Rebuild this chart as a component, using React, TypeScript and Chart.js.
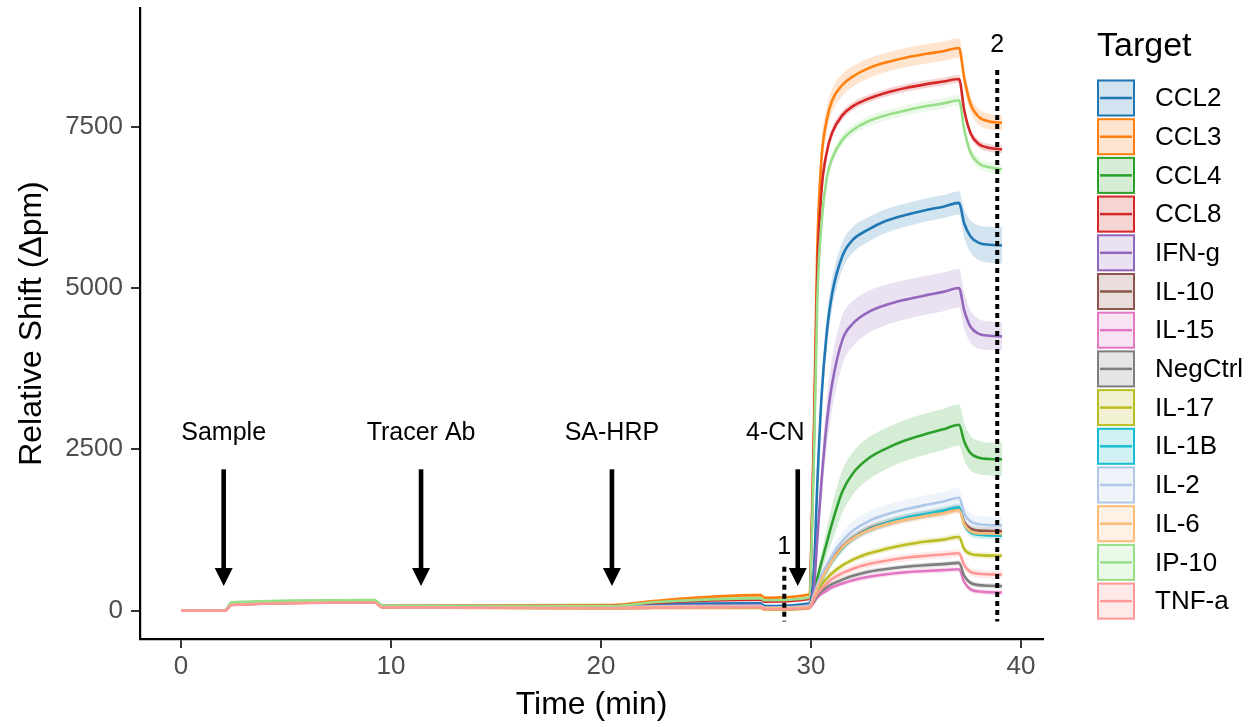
import React, { useEffect, useRef } from 'react';
import { Chart, registerables } from 'chart.js';

Chart.register(...registerables);

const FONT = '"Liberation Sans", Arial, sans-serif';

// Time points (min)
const TIME = [0, 2.1, 2.4, 9.2, 9.6, 20.5, 22.5, 27.6, 27.8, 29.9, 30.15, 30.3, 30.5, 30.75, 31, 31.5, 32, 32.7, 33.5, 34.5, 35.5, 36.3, 37.05, 37.3, 37.6, 38, 38.5, 39.1];

const TARGETS = ['CCL2', 'CCL3', 'CCL4', 'CCL8', 'IFN-g', 'IL-10', 'IL-15', 'NegCtrl', 'IL-17', 'IL-1B', 'IL-2', 'IL-6', 'IP-10', 'TNF-a'];
const COLORS = ['#1F77B4', '#FF7F0E', '#2CA02C', '#D62728', '#9467BD', '#8C564B', '#E377C2', '#7F7F7F', '#BCBD22', '#17BECF', '#AEC7E8', '#FFBB78', '#98DF8A', '#FF9896'];

// Mean relative shift (pm)
const CCL2 = [0, 0, 100, 140, 60, 55, 95, 115, 70, 110, 700, 1950, 3300, 4300, 4900, 5500, 5750, 5900, 6030, 6130, 6210, 6260, 6320, 6000, 5800, 5700, 5670, 5660];
const CCL3 = [0, 0, 110, 150, 80, 85, 150, 240, 200, 250, 3000, 5600, 7000, 7600, 7900, 8150, 8280, 8400, 8490, 8570, 8630, 8670, 8720, 8250, 7850, 7650, 7580, 7560];
const CCL4 = [0, 0, 95, 135, 55, 45, 60, 70, 40, 70, 300, 500, 750, 1050, 1350, 1850, 2130, 2350, 2500, 2640, 2740, 2810, 2880, 2620, 2440, 2370, 2350, 2345];
const CCL8 = [0, 0, 105, 145, 70, 70, 120, 170, 140, 180, 2800, 5200, 6500, 7100, 7400, 7680, 7820, 7930, 8020, 8100, 8160, 8200, 8240, 7750, 7400, 7230, 7170, 7150];
const IFNG = [0, 0, 100, 140, 60, 50, 70, 85, 50, 80, 400, 1100, 2000, 2900, 3500, 4200, 4450, 4620, 4730, 4820, 4890, 4940, 5000, 4650, 4400, 4290, 4260, 4250];
const IL10 = [0, 0, 95, 135, 55, 45, 55, 60, 30, 55, 220, 350, 490, 640, 780, 990, 1130, 1260, 1350, 1430, 1490, 1530, 1580, 1370, 1270, 1240, 1235, 1230];
const IL15 = [0, 0, 90, 130, 50, 40, 45, 50, 20, 40, 130, 200, 260, 310, 360, 420, 470, 520, 560, 595, 615, 628, 640, 440, 330, 295, 285, 280];
const NEGCTRL = [0, 0, 90, 130, 50, 40, 45, 50, 20, 45, 150, 230, 300, 360, 410, 480, 540, 600, 640, 680, 705, 720, 740, 540, 430, 395, 385, 380];
const IL17 = [0, 0, 90, 130, 50, 35, 40, 40, 15, 35, 200, 300, 400, 500, 580, 700, 790, 880, 950, 1020, 1070, 1100, 1140, 950, 880, 860, 852, 850];
const IL1B = [0, 0, 95, 135, 55, 45, 55, 60, 30, 55, 200, 330, 470, 620, 760, 970, 1120, 1250, 1350, 1440, 1500, 1550, 1600, 1330, 1210, 1175, 1165, 1160];
const IL2 = [0, 0, 100, 140, 60, 50, 65, 75, 45, 75, 250, 400, 550, 700, 850, 1080, 1240, 1380, 1480, 1570, 1640, 1690, 1750, 1500, 1380, 1340, 1325, 1320];
const IL6 = [0, 0, 95, 135, 55, 45, 55, 60, 35, 55, 210, 340, 480, 630, 770, 980, 1120, 1240, 1330, 1410, 1470, 1510, 1560, 1340, 1230, 1200, 1195, 1190];
const IP10 = [0, 0, 130, 165, 80, 70, 130, 190, 160, 200, 2500, 4800, 6000, 6700, 7000, 7300, 7450, 7580, 7670, 7750, 7820, 7860, 7910, 7450, 7100, 6930, 6870, 6840];
const TNFA = [0, 0, 85, 125, 50, 40, 45, 50, 20, 40, 180, 260, 340, 420, 490, 580, 650, 720, 770, 820, 850, 870, 890, 700, 600, 570, 562, 560];

// Ribbon half-widths (pm)
const CCL2_SD = [10, 10, 20, 20, 15, 15, 20, 25, 25, 25, 100, 200, 250, 260, 240, 210, 200, 190, 185, 180, 180, 180, 180, 220, 250, 270, 280, 280];
const CCL3_SD = [10, 10, 20, 20, 15, 15, 20, 25, 25, 25, 200, 300, 250, 200, 180, 170, 160, 155, 150, 150, 150, 150, 150, 140, 130, 125, 120, 120];
const CCL4_SD = [10, 10, 20, 20, 15, 15, 20, 25, 25, 25, 50, 100, 150, 220, 280, 330, 330, 325, 320, 320, 320, 320, 320, 290, 270, 260, 255, 255];
const CCL8_SD = [10, 10, 20, 20, 15, 15, 20, 25, 25, 25, 150, 200, 150, 100, 80, 70, 65, 60, 60, 60, 60, 60, 60, 60, 60, 60, 60, 60];
const IFNG_SD = [10, 10, 20, 20, 15, 15, 20, 25, 25, 25, 80, 200, 300, 380, 400, 380, 350, 330, 315, 305, 300, 300, 300, 280, 250, 230, 220, 220];
const IL10_SD = [10, 10, 20, 20, 15, 15, 20, 25, 25, 25, 30, 40, 50, 55, 60, 60, 60, 60, 60, 60, 60, 60, 60, 60, 60, 60, 60, 60];
const IL15_SD = [10, 10, 20, 20, 15, 15, 20, 25, 25, 25, 25, 30, 35, 40, 40, 40, 40, 40, 40, 40, 40, 40, 40, 40, 40, 40, 40, 40];
const NEGCTRL_SD = [10, 10, 20, 20, 15, 15, 20, 25, 25, 25, 25, 30, 35, 40, 40, 40, 40, 40, 40, 40, 40, 40, 40, 40, 40, 40, 40, 40];
const IL17_SD = [10, 10, 20, 20, 15, 15, 20, 25, 25, 25, 30, 40, 45, 50, 50, 50, 50, 50, 50, 50, 50, 50, 50, 50, 50, 50, 50, 50];
const IL1B_SD = [10, 10, 20, 20, 15, 15, 20, 25, 25, 25, 30, 40, 50, 55, 60, 60, 60, 60, 60, 60, 60, 60, 60, 60, 60, 60, 60, 60];
const IL2_SD = [10, 10, 20, 20, 15, 15, 20, 25, 25, 25, 40, 60, 80, 100, 120, 140, 150, 150, 150, 150, 150, 150, 150, 140, 135, 130, 130, 130];
const IL6_SD = [10, 10, 20, 20, 15, 15, 20, 25, 25, 25, 30, 40, 50, 55, 60, 60, 60, 60, 60, 60, 60, 60, 60, 60, 60, 60, 60, 60];
const IP10_SD = [10, 10, 20, 20, 15, 15, 20, 25, 25, 25, 150, 200, 150, 110, 90, 80, 80, 80, 80, 80, 80, 80, 80, 80, 80, 80, 80, 80];
const TNFA_SD = [10, 10, 20, 20, 15, 15, 20, 25, 25, 25, 30, 40, 50, 60, 60, 60, 60, 60, 60, 60, 60, 60, 60, 60, 60, 60, 60, 60];

const MEANS = [CCL2, CCL3, CCL4, CCL8, IFNG, IL10, IL15, NEGCTRL, IL17, IL1B, IL2, IL6, IP10, TNFA];
const SDS = [CCL2_SD, CCL3_SD, CCL4_SD, CCL8_SD, IFNG_SD, IL10_SD, IL15_SD, NEGCTRL_SD, IL17_SD, IL1B_SD, IL2_SD, IL6_SD, IP10_SD, TNFA_SD];

// Axes
const X_TICKS = [0, 10, 20, 30, 40];
const Y_TICKS = [0, 2500, 5000, 7500];
const X_MIN = -1.955;
const X_MAX = 41.05;
const Y_MIN = -440;
const Y_MAX = 9340;

// Annotations
const ARROW_TIMES = [2.03, 11.43, 20.52, 29.37];
const ARROW_TOP = 2190;
const ARROW_TIP = 380;
const ARROW_LABELS = ['Sample', 'Tracer Ab', 'SA-HRP', '4-CN'];
const ARROW_LABEL_TIMES = [2.03, 11.43, 20.52, 28.3];
const ARROW_LABEL_Y = 2750;
const MARK_TIMES = [28.73, 38.87];
const MARK_LABELS = ['1', '2'];
const MARK_TOPS = [680, 8380];
const MARK_BOTTOM = -170;
const MARK_LABEL_Y = [980, 8760];

function rgba(hex: string, a: number) {
  const n = parseInt(hex.slice(1), 16);
  return `rgba(${(n >> 16) & 255},${(n >> 8) & 255},${n & 255},${a})`;
}

const annotationPlugin = {
  id: 'annotations',
  afterDatasetsDraw(chart: any) {
    const { ctx, scales } = chart;
    const xs = scales.x;
    const ys = scales.y;
    ctx.save();
    MARK_TIMES.forEach((t, i) => {
      const x = xs.getPixelForValue(t);
      ctx.beginPath();
      ctx.setLineDash([5, 4]);
      ctx.lineWidth = 4;
      ctx.strokeStyle = '#000';
      ctx.moveTo(x, ys.getPixelForValue(MARK_TOPS[i]));
      ctx.lineTo(x, ys.getPixelForValue(MARK_BOTTOM));
      ctx.stroke();
      ctx.setLineDash([]);
      ctx.fillStyle = '#000';
      ctx.font = `25px ${FONT}`;
      ctx.textAlign = 'center';
      ctx.textBaseline = 'middle';
      ctx.fillText(MARK_LABELS[i], x, ys.getPixelForValue(MARK_LABEL_Y[i]));
    });
    ARROW_TIMES.forEach((t) => {
      const x = xs.getPixelForValue(t);
      const yTop = ys.getPixelForValue(ARROW_TOP);
      const yTip = ys.getPixelForValue(ARROW_TIP);
      const headH = 18;
      const headW = 9;
      ctx.fillStyle = '#000';
      ctx.fillRect(x - 2.3, yTop, 4.6, yTip - yTop - headH + 2);
      ctx.beginPath();
      ctx.moveTo(x - headW, yTip - headH);
      ctx.lineTo(x + headW, yTip - headH);
      ctx.lineTo(x, yTip);
      ctx.closePath();
      ctx.fill();
    });
    ctx.font = `25px ${FONT}`;
    ctx.textAlign = 'center';
    ctx.textBaseline = 'middle';
    ctx.fillStyle = '#000';
    ARROW_LABELS.forEach((lab, i) => {
      ctx.fillText(lab, xs.getPixelForValue(ARROW_LABEL_TIMES[i]), ys.getPixelForValue(ARROW_LABEL_Y));
    });
    ctx.restore();
  },
};

const legendPlugin = {
  id: 'ggLegend',
  afterDraw(chart: any) {
    const { ctx } = chart;
    ctx.save();
    const left = 1097;
    ctx.fillStyle = '#000';
    ctx.font = `34px ${FONT}`;
    ctx.textAlign = 'left';
    ctx.textBaseline = 'middle';
    ctx.fillText('Target', left, 47);
    const boxW = 38;
    const boxH = 37;
    const pitch = 38.7;
    const top0 = 79.5;
    TARGETS.forEach((name, i) => {
      const top = top0 + i * pitch;
      const c = COLORS[i];
      ctx.fillStyle = '#fff';
      ctx.fillRect(left, top, boxW, boxH);
      ctx.fillStyle = rgba(c, 0.2);
      ctx.fillRect(left, top, boxW, boxH);
      ctx.strokeStyle = c;
      ctx.lineWidth = 2;
      ctx.strokeRect(left + 1, top + 1, boxW - 2, boxH - 2);
      ctx.beginPath();
      ctx.lineWidth = 2.5;
      ctx.moveTo(left + 3, top + boxH / 2);
      ctx.lineTo(left + boxW - 3, top + boxH / 2);
      ctx.stroke();
      ctx.fillStyle = '#000';
      ctx.font = `26px ${FONT}`;
      ctx.fillText(name, 1155, top + boxH / 2 + 1);
    });
    ctx.restore();
  },
};

export default function App() {
  const ref = useRef<HTMLCanvasElement>(null);

  useEffect(() => {
    document.body.style.margin = '0';
    const canvas = ref.current;
    if (!canvas) return;
    const ribbons: any[] = [];
    const lines: any[] = [];
    MEANS.forEach((vals, i) => {
      const c = COLORS[i];
      const sd = SDS[i];
      ribbons.push({
        label: TARGETS[i] + ' lo',
        data: TIME.map((t, j) => ({ x: t, y: vals[j] - sd[j] })),
        borderWidth: 0,
        borderColor: 'rgba(0,0,0,0)',
        pointRadius: 0,
        fill: false,
        order: 3000 - 2 * i,
      });
      ribbons.push({
        label: TARGETS[i] + ' hi',
        data: TIME.map((t, j) => ({ x: t, y: vals[j] + sd[j] })),
        borderWidth: 0,
        borderColor: 'rgba(0,0,0,0)',
        backgroundColor: rgba(c, 0.2),
        pointRadius: 0,
        fill: '-1',
        order: 3000 - 2 * i - 1,
      });
      lines.push({
        label: TARGETS[i],
        data: TIME.map((t, j) => ({ x: t, y: vals[j] })),
        borderColor: c,
        borderWidth: 2.6,
        pointRadius: 0,
        fill: false,
        order: 1000 - i,
      });
    });

    const chart = new Chart(canvas, {
      type: 'line',
      data: { datasets: [...ribbons, ...lines] },
      options: {
        animation: false,
        responsive: false,
        maintainAspectRatio: false,
        devicePixelRatio: 1,
        layout: { padding: { top: 8, right: 217, bottom: 0, left: 0 } },
        elements: {
          point: { radius: 0 },
          line: { cubicInterpolationMode: 'monotone' },
        },
        plugins: {
          legend: { display: false },
          tooltip: { enabled: false },
          filler: { propagate: false },
        },
        scales: {
          x: {
            type: 'linear',
            min: X_MIN,
            max: X_MAX,
            afterBuildTicks: (s: any) => {
              s.ticks = X_TICKS.map((v) => ({ value: v }));
            },
            afterFit: (s: any) => {
              s.height = 88;
              s.paddingLeft = 0;
              s.paddingRight = 0;
            },
            grid: { display: true, drawOnChartArea: false, drawTicks: true, tickLength: 9, color: '#333', lineWidth: 2 },
            border: { display: true, color: '#000', width: 2.2 },
            ticks: { color: '#4D4D4D', font: { family: FONT, size: 26 }, padding: 3, maxRotation: 0, autoSkip: false, callback: (v: any) => String(v) },
            title: { display: true, text: 'Time (min)', color: '#000', font: { family: FONT, size: 32 }, padding: { top: 0, bottom: 3 } },
          },
          y: {
            type: 'linear',
            min: Y_MIN,
            max: Y_MAX,
            afterBuildTicks: (s: any) => {
              s.ticks = Y_TICKS.map((v) => ({ value: v }));
            },
            afterFit: (s: any) => {
              s.width = 140;
              s.paddingTop = 0;
              s.paddingBottom = 0;
            },
            grid: { display: true, drawOnChartArea: false, drawTicks: true, tickLength: 9, color: '#333', lineWidth: 2 },
            border: { display: true, color: '#000', width: 2.2 },
            ticks: { color: '#4D4D4D', font: { family: FONT, size: 26 }, padding: 8, autoSkip: false, callback: (v: any) => String(v) },
            title: { display: true, text: 'Relative Shift (\u0394pm)', color: '#000', font: { family: FONT, size: 32 }, padding: { top: 13, bottom: 0 } },
          },
        },
      },
      plugins: [annotationPlugin, legendPlugin],
    } as any);

    return () => chart.destroy();
  }, []);

  return (
    <div style={{ width: 1260, height: 727, background: '#fff' }}>
      <canvas ref={ref} width={1260} height={727} style={{ display: 'block' }} />
    </div>
  );
}
